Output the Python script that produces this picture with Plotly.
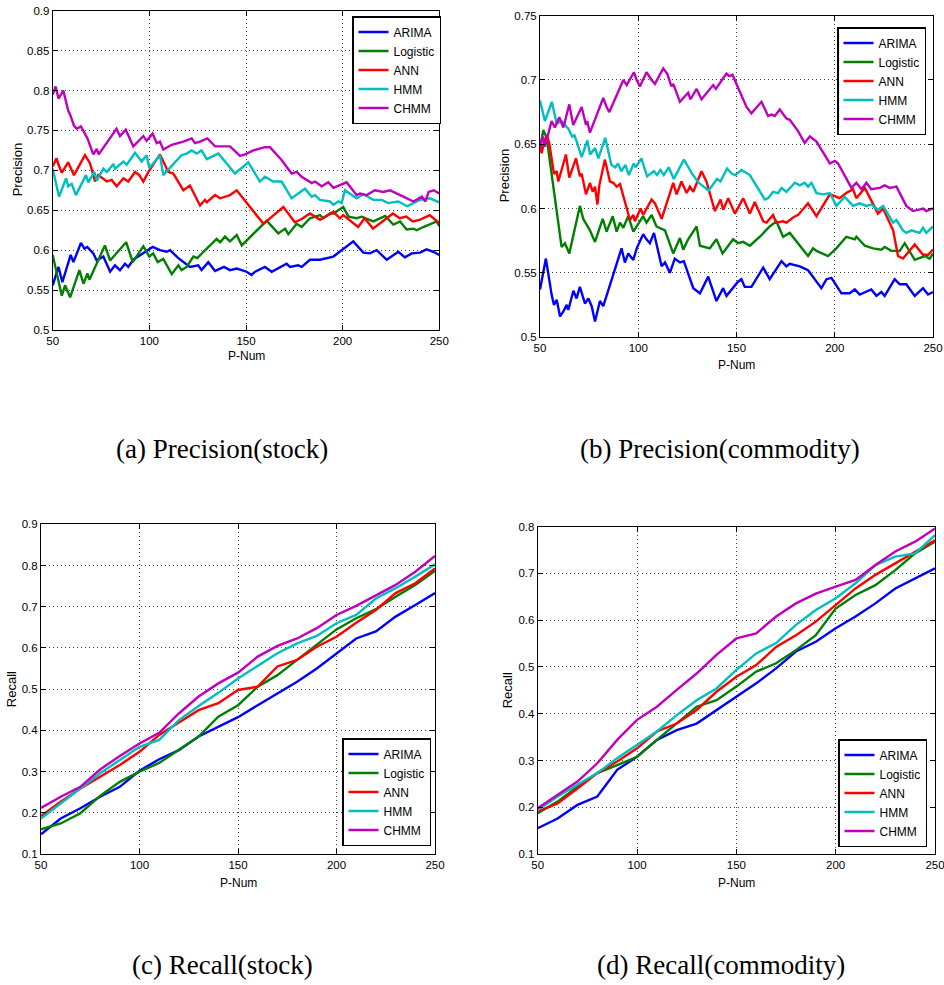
import plotly.graph_objects as go

SERIES = ["ARIMA", "Logistic", "ANN", "HMM", "CHMM"]
COLORS = ["#0000FF", "#008000", "#FF0000", "#00BFBF", "#BF00BF"]
X_TICKS = [50, 100, 150, 200, 250]
CAPTIONS = ["(a) Precision(stock)", "(b) Precision(commodity)",
            "(c) Recall(stock)", "(d) Recall(commodity)"]

# ---------------- (a) Precision (stock): (P-Num, value) ----------------
a_arima = [(50,0.556),(53,0.579),(55,0.56),(59.3,0.594),(60.7,0.585),(64.6,0.609),(66.4,0.602),
           (67.9,0.604),(71,0.596),(72.8,0.587),(76.2,0.592),(79.7,0.573),(82.2,0.581),(84.8,0.575),
           (87.4,0.583),(89.1,0.579),(91.7,0.588),(96.9,0.596),(101.7,0.604),(105.5,0.6),(108.9,0.598),
           (110.7,0.6),(115,0.59),(121,0.579),(125.3,0.581),(127,0.575),(130.5,0.585),(134,0.574),
           (138.6,0.579),(141.7,0.575),(145.2,0.577),(150.3,0.573),(152.9,0.569),(154.7,0.573),
           (159.8,0.579),(163.3,0.573),(166.7,0.577),(171,0.583),(172.8,0.579),(177,0.581),(178.8,0.579),
           (183.1,0.588),(188.3,0.588),(192.6,0.59),(195.2,0.592),(205.5,0.611),(210.7,0.597),
           (214.1,0.596),(217.6,0.6),(222.8,0.588),(228.8,0.598),(232.2,0.591),(235.7,0.596),
           (240,0.597),(243.4,0.601),(246.9,0.598),(250,0.594)]
a_logistic = [(50,0.594),(54.7,0.543),(56.4,0.556),(59,0.541),(63.8,0.575),(65.9,0.558),(68,0.571),
              (69,0.563),(77,0.606),(79.7,0.587),(82.2,0.594),(88,0.61),(91.4,0.585),(96.9,0.605),
              (100,0.592),(102,0.596),(104.3,0.585),(107.2,0.589),(111.6,0.57),(115,0.581),(116.7,0.575),
              (119.3,0.579),(122.8,0.592),(124.8,0.59),(128,0.598),(134.8,0.614),(136.6,0.61),
              (139.1,0.617),(141.7,0.611),(145.2,0.619),(147.8,0.606),(160.7,0.637),(166.7,0.621),
              (170.2,0.627),(171.9,0.62),(176.2,0.633),(178.8,0.629),(183.1,0.64),(188.3,0.644),
              (190,0.64),(193.4,0.646),(195.2,0.646),(200.3,0.654),(203,0.642),(207.2,0.64),
              (209.8,0.642),(215.9,0.636),(222,0.643),(226.2,0.632),(229.7,0.636),(233.1,0.626),
              (236.6,0.627),(238.3,0.625),(241.7,0.629),(248.6,0.636),(250,0.63)]
a_ann = [(50,0.705),(52,0.715),(53,0.707),(54.7,0.697),(58,0.71),(59.3,0.702),(61,0.694),(66.7,0.719),
         (69.3,0.709),(71.9,0.686),(73.6,0.694),(78,0.686),(80.5,0.688),(83.1,0.68),(86.6,0.69),
         (89.1,0.686),(92.6,0.698),(94.8,0.694),(96.9,0.686),(99.5,0.698),(105.5,0.72),(109.8,0.698),
         (112.4,0.696),(117.6,0.675),(121,0.681),(126.2,0.656),(128.8,0.663),(129.7,0.66),(134,0.669),
         (136.6,0.665),(141.7,0.669),(145.2,0.675),(152,0.654),(159,0.633),(169.3,0.654),(175.3,0.635),
         (178.8,0.639),(183.1,0.646),(188.3,0.638),(195.2,0.648),(198.6,0.64),(200.3,0.644),
         (208,0.629),(211.4,0.64),(215.7,0.627),(226,0.646),(229.5,0.64),(232.9,0.642),(236.3,0.636),
         (239.8,0.638),(245,0.644),(250,0.634)]
a_hmm = [(50,0.702),(53.3,0.667),(56.9,0.69),(58,0.68),(59.8,0.683),(62,0.669),(67.2,0.694),
         (68.4,0.685),(71.6,0.698),(72.8,0.687),(76.2,0.702),(78,0.698),(81.4,0.708),(82.2,0.702),
         (86.6,0.711),(88.3,0.707),(92.6,0.722),(96,0.711),(98.6,0.719),(100,0.703),(105.5,0.719),
         (107.2,0.694),(116.6,0.719),(119.3,0.721),(121.9,0.725),(124.5,0.721),(127,0.725),
         (129.7,0.714),(135.7,0.721),(139.1,0.711),(144.3,0.696),(151.2,0.71),(157.2,0.686),
         (159.8,0.692),(164.1,0.686),(168.4,0.686),(173.6,0.665),(180.5,0.677),(184,0.667),
         (185.7,0.669),(188.3,0.663),(193.4,0.661),(195.2,0.657),(197.8,0.661),(199.5,0.659),
         (201.2,0.675),(203.8,0.671),(207.2,0.665),(210.7,0.67),(215.9,0.663),(220.2,0.663),
         (223.6,0.659),(228.8,0.661),(233.4,0.655),(240,0.663),(245.2,0.665),(250,0.66)]
a_chmm = [(50,0.795),(51.5,0.805),(53,0.79),(55.5,0.8),(58,0.775),(59,0.77),(61,0.756),(62.4,0.752),
          (64.6,0.755),(66.7,0.745),(68,0.74),(71,0.72),(72.8,0.727),(73.8,0.72),(83,0.752),
          (84.8,0.743),(87.8,0.751),(91.7,0.73),(96.9,0.743),(98.6,0.737),(101.7,0.746),(103.8,0.734),
          (105.5,0.736),(107.2,0.726),(111.6,0.732),(117.6,0.736),(121.9,0.74),(123.6,0.734),
          (126.2,0.736),(130,0.74),(134,0.73),(141.7,0.73),(146.9,0.718),(149.5,0.72),(153.8,0.725),
          (159.8,0.729),(162.4,0.729),(168.4,0.713),(173.6,0.696),(176.2,0.698),(178.8,0.692),
          (184,0.684),(185.7,0.686),(189.1,0.68),(192.6,0.685),(195.2,0.678),(202,0.685),(207.2,0.669),
          (209,0.671),(212.4,0.669),(216.7,0.675),(221,0.673),(224.5,0.675),(231.4,0.667),
          (236.6,0.661),(241,0.667),(242.8,0.661),(244.5,0.673),(247.1,0.675),(250,0.671)]

# ---------------- (b) Precision (commodity) ----------------
b_arima = [(50,0.537),(53,0.561),(55.9,0.533),(57.1,0.525),(58.5,0.529),(60.2,0.516),(61.9,0.52),
           (63.6,0.525),(64.4,0.521),(67,0.536),(68.6,0.53),(70.3,0.539),(72.9,0.526),(74.6,0.53),
           (76.3,0.524),(78,0.512),(80.5,0.528),(82.2,0.524),(91.5,0.569),(93.2,0.558),(94.9,0.565),
           (97.5,0.56),(99.2,0.569),(102.5,0.58),(104.2,0.576),(105.9,0.573),(108,0.581),(111.9,0.555),
           (113.6,0.558),(116.1,0.55),(118.6,0.561),(121.2,0.558),(123.2,0.559),(128,0.538),
           (131.4,0.534),(135.6,0.547),(139.8,0.528),(143.2,0.538),(144.9,0.532),(150.8,0.543),
           (152.5,0.545),(154.2,0.539),(157.6,0.539),(163.6,0.554),(166.9,0.545),(172.9,0.559),
           (175.4,0.555),(177.1,0.557),(182.2,0.555),(186.4,0.552),(193.2,0.538),(195.8,0.545),
           (198.3,0.546),(203.4,0.534),(207.6,0.534),(210.2,0.537),(212.7,0.533),(218.6,0.537),
           (221.2,0.532),(223.7,0.535),(225.4,0.532),(230.5,0.545),(233.1,0.541),(236.4,0.541),
           (240.7,0.532),(244.9,0.538),(247.5,0.533),(250,0.535)]
b_logistic = [(50,0.647),(51.7,0.661),(53.4,0.655),(61,0.57),(62.7,0.573),(64.9,0.565),(70.3,0.602),
              (72,0.592),(75.4,0.583),(78,0.574),(81.9,0.592),(83.9,0.582),(87,0.594),(89,0.582),
              (90.7,0.589),(92.4,0.585),(94.9,0.594),(97.5,0.582),(102.5,0.594),(104.2,0.589),
              (106.8,0.595),(109.3,0.586),(113.6,0.583),(117.8,0.565),(121.2,0.577),(122.9,0.568),
              (125.4,0.576),(129.7,0.586),(131.4,0.571),(136.4,0.569),(139.8,0.576),(142.9,0.565),
              (148.3,0.576),(150.8,0.573),(153.4,0.574),(156.8,0.571),(161.9,0.578),(166.9,0.586),
              (170.3,0.59),(173.7,0.578),(177.1,0.581),(182.2,0.571),(186.4,0.563),(189,0.569),
              (190.7,0.567),(196.6,0.563),(200.8,0.569),(205.9,0.578),(210.2,0.576),(211,0.578),
              (215.3,0.571),(219.5,0.569),(223.7,0.568),(225.4,0.57),(228.8,0.567),(233.1,0.567),
              (235.6,0.573),(240.7,0.56),(242.4,0.561),(245.8,0.563),(248.3,0.561),(250,0.565)]
b_ann = [(50,0.651),(50.8,0.643),(52,0.651),(53.4,0.657),(54.7,0.651),(57.1,0.627),(58.5,0.629),
         (59.3,0.621),(63.2,0.642),(64.9,0.624),(68.3,0.639),(70.3,0.625),(71.2,0.627),(73.4,0.611),
         (75.4,0.62),(76.8,0.613),(78,0.617),(79.2,0.603),(80.2,0.618),(80.8,0.622),(83,0.638),
         (85.6,0.621),(87.3,0.62),(89,0.617),(90.7,0.619),(95.8,0.591),(97.5,0.595),(98.3,0.59),
         (101.2,0.6),(102.5,0.595),(106.8,0.607),(108.5,0.604),(111.9,0.592),(117.8,0.62),
         (119.5,0.611),(122,0.621),(124.6,0.612),(126.3,0.617),(128,0.613),(132.2,0.629),
         (134.7,0.621),(139,0.598),(141.9,0.607),(143.2,0.599),(145.8,0.608),(149.2,0.596),
         (153.4,0.608),(156.8,0.596),(159.3,0.605),(163.6,0.59),(165.3,0.589),(168.6,0.595),
         (170.3,0.589),(173.7,0.59),(175.4,0.589),(178.8,0.593),(181.4,0.595),(186.4,0.604),
         (190.7,0.594),(197.5,0.611),(202.5,0.608),(205.9,0.612),(209.3,0.615),(211,0.608),
         (215.3,0.616),(222,0.596),(224.6,0.6),(229.7,0.583),(232.2,0.563),(234.7,0.561),
         (240.7,0.572),(244.9,0.564),(247.5,0.564),(250,0.568)]
b_hmm = [(50,0.684),(52.5,0.668),(56,0.683),(58.5,0.666),(61,0.668),(64.4,0.662),(66.4,0.656),
         (67.5,0.657),(68.7,0.652),(71.2,0.64),(74.1,0.653),(75.5,0.642),(78,0.647),(79.7,0.639),
         (83.2,0.655),(86.3,0.634),(88.3,0.632),(89.7,0.635),(91.4,0.629),(93.5,0.634),(95.2,0.626),
         (97.7,0.635),(98.6,0.632),(101.6,0.639),(104.5,0.625),(106.2,0.627),(107.9,0.629),
         (109.6,0.626),(111.3,0.63),(113,0.626),(115.5,0.632),(118.1,0.623),(123.2,0.638),
         (124.8,0.634),(127.4,0.627),(130.7,0.62),(135.8,0.614),(140.1,0.623),(141.8,0.621),
         (145.2,0.631),(147.7,0.627),(149.4,0.626),(152.5,0.63),(156.8,0.626),(161,0.616),
         (164.4,0.607),(166.1,0.608),(168.6,0.613),(171.2,0.612),(172.9,0.616),(175.4,0.613),
         (179.7,0.62),(182.2,0.618),(184.7,0.62),(186.4,0.617),(188.1,0.62),(190.7,0.612),
         (194.1,0.611),(197.5,0.612),(200.8,0.602),(205.1,0.609),(209.3,0.602),(212.7,0.604),
         (216.1,0.602),(218.6,0.603),(222,0.599),(224.6,0.602),(229.7,0.589),(231.4,0.591),
         (234.7,0.583),(236.4,0.581),(239,0.583),(243.2,0.581),(244.9,0.585),(246.6,0.581),(250,0.586)]
b_chmm = [(50,0.648),(51.4,0.656),(52.5,0.648),(55.9,0.668),(57.6,0.663),(59.8,0.671),(61.9,0.663),
          (64.9,0.681),(66.9,0.665),(71.2,0.679),(73.4,0.665),(74,0.668),(75.4,0.659),(82.2,0.686),
          (83.9,0.679),(85.3,0.675),(92.4,0.7),(94.1,0.696),(97.8,0.706),(99.2,0.7),(100.8,0.695),
          (104.2,0.706),(106.8,0.7),(108.5,0.697),(112.7,0.709),(114.7,0.705),(116.9,0.695),
          (117.8,0.697),(121.2,0.683),(125.4,0.69),(126.6,0.685),(129.7,0.693),(132.2,0.685),
          (138.1,0.696),(139.5,0.693),(144.9,0.705),(146.3,0.703),(148,0.704),(150.8,0.694),
          (155.1,0.679),(157.6,0.674),(162.7,0.683),(166.1,0.672),(167.8,0.673),(169.5,0.672),
          (172,0.677),(175.4,0.67),(177.1,0.669),(181.4,0.66),(184.7,0.651),(187.3,0.656),
          (190.7,0.652),(197.5,0.635),(200,0.637),(201.7,0.635),(208.5,0.616),(211,0.62),
          (213.6,0.615),(216.1,0.62),(218.6,0.615),(222.9,0.616),(225.4,0.618),(228,0.616),
          (231.4,0.617),(236.4,0.602),(239.8,0.598),(244.9,0.6),(246.6,0.598),(250,0.6)]

# ---------------- (c)/(d) Recall, read every 10 P-Num ----------------
recall_x = [50, 60, 70, 80, 90, 100, 110, 120, 130, 140, 150,
            160, 170, 180, 190, 200, 210, 220, 230, 240, 250]
c_arima = [0.148,0.186,0.211,0.239,0.263,0.302,0.33,0.352,0.385,0.409,0.432,
           0.461,0.49,0.518,0.55,0.587,0.623,0.64,0.676,0.704,0.733]
c_logistic = [0.16,0.174,0.199,0.241,0.275,0.3,0.321,0.354,0.385,0.433,0.461,
              0.506,0.534,0.571,0.607,0.645,0.672,0.694,0.724,0.753,0.787]
c_ann = [0.192,0.227,0.259,0.288,0.316,0.348,0.389,0.419,0.449,0.466,0.498,
         0.506,0.555,0.571,0.603,0.627,0.661,0.692,0.733,0.757,0.793]
c_hmm = [0.186,0.223,0.259,0.296,0.328,0.36,0.377,0.425,0.459,0.491,0.526,
         0.556,0.587,0.611,0.629,0.66,0.68,0.72,0.745,0.773,0.803]
c_chmm = [0.212,0.239,0.263,0.305,0.338,0.368,0.394,0.441,0.482,0.514,0.54,
          0.579,0.605,0.623,0.648,0.68,0.702,0.728,0.753,0.785,0.823]
d_arima = [0.155,0.176,0.205,0.223,0.28,0.308,0.344,0.365,0.379,0.408,0.436,
           0.465,0.497,0.533,0.554,0.583,0.608,0.636,0.668,0.69,0.711]
d_logistic = [0.187,0.212,0.244,0.273,0.29,0.308,0.344,0.379,0.415,0.429,0.458,
              0.49,0.508,0.536,0.568,0.625,0.654,0.675,0.707,0.743,0.768]
d_ann = [0.191,0.208,0.24,0.273,0.298,0.326,0.362,0.379,0.408,0.447,0.479,
         0.504,0.543,0.568,0.597,0.632,0.668,0.697,0.722,0.747,0.771]
d_hmm = [0.194,0.223,0.248,0.273,0.305,0.333,0.362,0.397,0.429,0.454,0.494,
         0.529,0.551,0.59,0.622,0.647,0.679,0.718,0.736,0.743,0.782]
d_chmm = [0.198,0.226,0.255,0.294,0.344,0.387,0.415,0.451,0.486,0.526,0.561,
          0.572,0.608,0.636,0.657,0.672,0.686,0.718,0.747,0.768,0.796]

W, H = 944, 985
FONT = "Liberation Sans, Arial, Helvetica, sans-serif"


def px(x):
    return x / W


def py(y):
    return 1 - y / H


panels = [
    dict(data=[a_arima, a_logistic, a_ann, a_hmm, a_chmm], sfx="", yr=[0.5, 0.9], dt=0.05,
         xd=(52.7, 439.3), yd=(10.7, 330), leg=(352, 16), ylab="Precision", ylx=17, xly=356),
    dict(data=[b_arima, b_logistic, b_ann, b_hmm, b_chmm], sfx="2", yr=[0.5, 0.75], dt=0.05,
         xd=(540, 933), yd=(15.7, 337), leg=(837, 27), ylab="Precision", ylx=504, xly=365),
    dict(data=[c_arima, c_logistic, c_ann, c_hmm, c_chmm], sfx="3", yr=[0.1, 0.9], dt=0.1,
         xd=(41, 435), yd=(524.3, 854), leg=(342, 738), ylab="Recall", ylx=11, xly=883),
    dict(data=[d_arima, d_logistic, d_ann, d_hmm, d_chmm], sfx="4", yr=[0.1, 0.8], dt=0.1,
         xd=(537.7, 935), yd=(526.7, 854), leg=(838, 739), ylab="Recall", ylx=507, xly=883),
]

fig = go.Figure()
annotations = []
layout = {}
for p in panels:
    sfx = p["sfx"]
    legname = "legend" + sfx
    for name, color, series in zip(SERIES, COLORS, p["data"]):
        if series and isinstance(series[0], tuple):
            xs = [pt[0] for pt in series]
            ys = [pt[1] for pt in series]
        else:
            xs, ys = recall_x, series
        fig.add_trace(go.Scatter(x=xs, y=ys, mode="lines", name=name,
                                 line=dict(color=color, width=2.4),
                                 xaxis="x" + sfx, yaxis="y" + sfx, legend=legname))
    x0, x1 = p["xd"]
    y0, y1 = p["yd"]
    common = dict(showline=True, linecolor="black", linewidth=1, mirror="ticks",
                  ticks="inside", ticklen=5, tickcolor="black", automargin=False,
                  ticklabeloverflow="allow",
                  showgrid=True, gridcolor="#444444", griddash="1px,3px", gridwidth=1,
                  zeroline=False, tickfont=dict(family=FONT, size=11.5, color="black"))
    layout["xaxis" + sfx] = dict(common, domain=[px(x0), px(x1)], range=[50, 250],
                                 tickvals=X_TICKS, anchor="y" + sfx)
    nt = int(round((p["yr"][1] - p["yr"][0]) / p["dt"])) + 1
    yt = [round(p["yr"][0] + k * p["dt"], 2) for k in range(nt)]
    layout["yaxis" + sfx] = dict(common, domain=[py(y1), py(y0)], range=p["yr"],
                                 tickvals=yt, ticktext=[f"{v:g}" for v in yt],
                                 anchor="x" + sfx)
    lx, ly = p["leg"]
    layout[legname] = dict(x=px(lx), y=py(ly), xanchor="left", yanchor="top",
                           bgcolor="white", bordercolor="black", borderwidth=1.5,
                           font=dict(family=FONT, size=12, color="black"),
                           tracegroupgap=0)
    annotations.append(dict(text="P-Num", x=px((x0 + x1) / 2), y=py(p["xly"]),
                            xanchor="center", yanchor="middle",
                            xref="paper", yref="paper", showarrow=False,
                            font=dict(family=FONT, size=12, color="black")))
    annotations.append(dict(text=p["ylab"], x=px(p["ylx"]), y=py((y0 + y1) / 2),
                            xanchor="center", yanchor="middle",
                            xref="paper", yref="paper", showarrow=False, textangle=-90,
                            font=dict(family=FONT, size=13, color="black")))

cap_pos = [(222, 449), (720, 449), (222, 965), (721, 965)]
for text, (cx, cy) in zip(CAPTIONS, cap_pos):
    annotations.append(dict(text=text, x=px(cx), y=py(cy), xanchor="center", yanchor="middle",
                            xref="paper", yref="paper", showarrow=False,
                            font=dict(family="Liberation Serif, Times New Roman, serif",
                                      size=27, color="black")))

fig.update_layout(width=W, height=H, margin=dict(l=0, r=0, t=0, b=0, autoexpand=False),
                  paper_bgcolor="white", plot_bgcolor="white",
                  annotations=annotations, **layout)
# remove the default page margin so the figure sits at the window's top-left corner
fig.write_html("out.html", config={"displayModeBar": False},
               post_script="document.body.style.margin='0';document.body.style.overflow='hidden';")
